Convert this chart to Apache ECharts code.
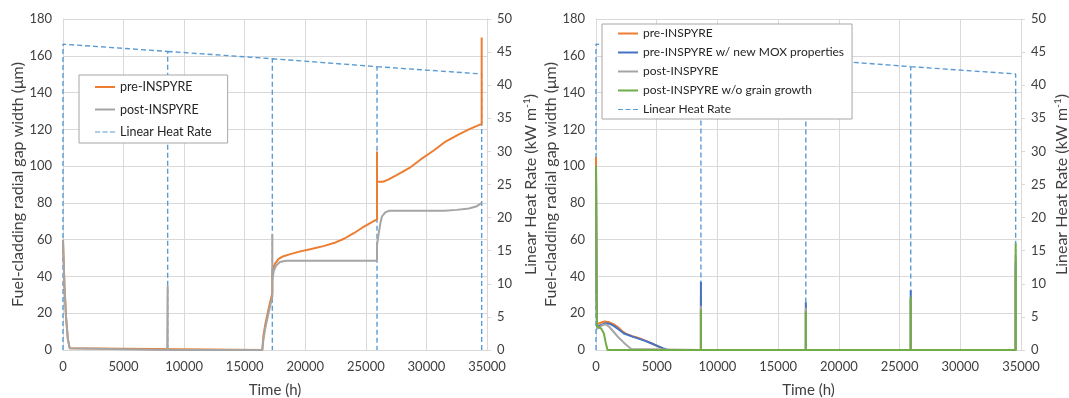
<!DOCTYPE html>
<html>
<head>
<meta charset="utf-8">
<script src="https://cdn.jsdelivr.net/npm/echarts@6/dist/echarts.min.js"></script>
<style>
  html, body { margin: 0; padding: 0; background: #fff; }
  #chart { width: 1069px; height: 398px; }
</style>
</head>
<body>
<div id="chart"></div>
<script>
// Linear heat rate history (shared by both panels), kW/m.
// null breaks the path so each shutdown drop is drawn once.
const lhrTime  = [0, 0, 8640, 8640, 8640, 8640, 17280, 17280, 17280, 17280, 25920, 25920, 25920, 25920, 34560, 34560];
const lhrValue = [0, 46.2, 45.1, 0, null, 45.1, 44.0, 0, null, 44.0, 42.8, 0, null, 42.8, 41.7, 0];

// Left panel: gap width, pre-INSPYRE (um)
const preTimeL = [0, 120, 250, 400, 550, 700, 16450, 16550, 16700, 16960, 17100, 17280, 17280, 17500, 17800, 18200, 18700, 19500, 20400, 21500, 22500, 23200, 24000, 24700, 25500, 25920, 25920, 25920, 26400, 26800, 27500, 28600, 29500, 30600, 31500, 32600, 33500, 34560, 34560];
const preValL  = [60, 35, 18, 6, 1, 0, 0, 8, 14, 22, 26, 31, 43, 47, 49.5, 51, 52, 53.5, 54.8, 56.5, 58.5, 60.5, 63.5, 66.5, 69.5, 71, 108, 91.5, 91.5, 92.5, 95, 99, 103.5, 108.5, 113, 117, 120, 123, 170];

// Left panel: gap width, post-INSPYRE (um)
const postTimeL = [0, 120, 250, 400, 550, 700, 8600, 8640, 8640, 16450, 16550, 16700, 16960, 17280, 17280, 17280, 17400, 17600, 17900, 18400, 25920, 25920, 26050, 26200, 26335, 26600, 26900, 31500, 32500, 33500, 34100, 34560];
const postValL  = [60, 35, 18, 6, 1, 0, 0, 35, 0, 0, 6, 12, 20, 29, 63, 38, 43, 46, 47.8, 48.5, 48.5, 57, 63, 69, 72.7, 74.8, 75.7, 75.7, 76.2, 77, 78, 80];

// Right panel: gap width, four model variants (um)
const preTimeR = [0, 40, 80, 200, 400, 700, 1000, 1400, 1800, 2200, 2500, 3000, 3500, 4000, 4500, 5000, 5500, 5800, 8640, 8640, 8640, 17280, 17280, 17280, 25920, 25920, 25920, 34560, 34560];
const preValR  = [105, 40, 14, 13.5, 14.8, 15.5, 15.2, 14.2, 12.5, 10, 8.8, 7.5, 6.5, 5.2, 3.8, 2.3, 0.7, 0, 0, 30, 0, 0, 22, 0, 0, 28, 0, 0, 45];

const moxTimeR = [0, 40, 80, 200, 400, 800, 1100, 1500, 1900, 2300, 2600, 3000, 3500, 4000, 4500, 5000, 5500, 5900, 8640, 8640, 8640, 17280, 17280, 17280, 25920, 25920, 25920, 34560, 34560];
const moxValR  = [100, 40, 12.5, 12, 13.5, 14.6, 14.3, 13, 11, 9, 8.3, 7.3, 6.2, 5.1, 3.8, 2.4, 1, 0, 0, 37, 0, 0, 26, 0, 0, 32.5, 0, 0, 48];

const postTimeR = [0, 40, 80, 250, 500, 800, 1100, 1500, 1900, 2300, 2600, 2900, 3000, 8640, 8640, 8640, 17280, 17280, 17280, 25920, 25920, 25920, 34560, 34560];
const postValR  = [95, 35, 11.5, 12, 13.5, 14, 12.5, 9.5, 6.5, 4, 2.2, 0.5, 0, 0, 24, 0, 0, 23, 0, 0, 28, 0, 0, 52];

const noggTimeR = [0, 40, 80, 200, 450, 650, 800, 950, 8640, 8640, 8640, 17280, 17280, 17280, 25920, 25920, 25920, 34560, 34560];
const noggValR  = [100, 35, 13, 12, 11.5, 9, 4, 0, 0, 22, 0, 0, 21, 0, 0, 29, 0, 0, 58];

// Axis tick settings
const gapAxis = { min: 0, max: 180, interval: 20 };
const lhrAxis = { min: 0, max: 50, interval: 5 };
const timeAxis = { min: 0, max: 35000, interval: 5000 };

const zip = (t, v) => t.map((x, i) => [x, v[i] === null ? '-' : v[i]]);

const C = {
  orange: '#ED7D31', blue: '#4472C4', grey: '#A5A5A5', green: '#70AD47', lhr: '#5B9BD5',
  grid: '#D9D9D9', text: '#404040'
};
const FONT = 'Lato';

function xAxisFor(gridIndex) {
  return {
    type: 'value', gridIndex, ...timeAxis,
    name: 'Time (h)', nameLocation: 'middle', nameGap: 33,
    nameTextStyle: { fontFamily: FONT, fontSize: 15, color: C.text },
    axisLine: { show: true, onZero: false, lineStyle: { color: C.grid } },
    axisTick: { show: false },
    splitLine: { show: true, lineStyle: { color: C.grid } },
    axisLabel: { fontFamily: FONT, fontSize: 13, color: C.text, margin: 10, formatter: v => String(v) }
  };
}
function gapAxisFor(gridIndex) {
  return {
    type: 'value', gridIndex, position: 'left', ...gapAxis,
    name: 'Fuel-cladding radial gap width (\u03bcm)', nameLocation: 'middle', nameGap: 37, nameRotate: 90,
    nameTextStyle: { fontFamily: FONT, fontSize: 16, color: C.text },
    axisLine: { show: true, lineStyle: { color: C.grid } },
    axisTick: { show: false },
    splitLine: { show: true, lineStyle: { color: C.grid } },
    axisLabel: { fontFamily: FONT, fontSize: 13, color: C.text, margin: 11 }
  };
}
function lhrAxisFor(gridIndex, nameGap) {
  return {
    type: 'value', gridIndex, position: 'right', ...lhrAxis,
    name: 'Linear Heat Rate (kW m{sup|-1})', nameLocation: 'middle', nameGap, nameRotate: 90,
    nameTextStyle: {
      fontFamily: FONT, fontSize: 16, color: C.text,
      rich: { sup: { fontFamily: FONT, fontSize: 10, color: C.text, verticalAlign: 'top', padding: [0, 0, 8, 0] } }
    },
    axisLine: { show: true, lineStyle: { color: C.grid } },
    axisTick: { show: true, length: 4, lineStyle: { color: C.grid } },
    splitLine: { show: false },
    axisLabel: { fontFamily: FONT, fontSize: 13, color: C.text, margin: 10 }
  };
}
function lineSeries(name, xi, yi, data, color, width) {
  return {
    name, type: 'line', xAxisIndex: xi, yAxisIndex: yi, data,
    symbol: 'none', smooth: false, animation: false, connectNulls: false,
    lineStyle: { color, width }, itemStyle: { color }
  };
}
function lhrSeries(xi, yi) {
  return {
    name: 'Linear Heat Rate', type: 'line', xAxisIndex: xi, yAxisIndex: yi,
    data: zip(lhrTime, lhrValue), symbol: 'none', animation: false, connectNulls: false,
    lineStyle: { color: C.lhr, width: 1.4, type: [5, 3] }, itemStyle: { color: C.lhr }
  };
}

// Legend keys: short solid bar for curves, three dashes for the heat rate
const SOLID = 'rect';
const DASHED = 'path://M0,0h5v1h-5zM7.5,0h5v1h-5zM15,0h5v1h-5z';
const key = (name, icon) => ({ name, icon });

const legendBase = {
  orient: 'vertical', backgroundColor: '#fff', borderColor: '#A6A6A6', borderWidth: 1,
  itemWidth: 20, itemHeight: 2, selectedMode: false
};

const option = {
  backgroundColor: '#fff',
  animation: false,
  grid: [
    { left: 63, top: 19, width: 424, height: 331, outerBoundsMode: 'none', containLabel: false },
    { left: 596, top: 19, width: 425, height: 331, outerBoundsMode: 'none', containLabel: false }
  ],
  xAxis: [xAxisFor(0), xAxisFor(1)],
  yAxis: [gapAxisFor(0), lhrAxisFor(0, 35), gapAxisFor(1), lhrAxisFor(1, 32)],
  legend: [
    { ...legendBase, left: 79, top: 75, padding: [5, 16, 4, 16], itemGap: 8.5,
      textStyle: { fontFamily: FONT, fontSize: 12.5, color: '#262626', lineHeight: 14 },
      data: [key('pre-INSPYRE', SOLID), key('post-INSPYRE', SOLID), key('Linear Heat Rate', DASHED)] },
    { ...legendBase, left: 602, top: 24, padding: [3, 8, 3, 16], itemGap: 6,
      textStyle: { fontFamily: FONT, fontSize: 12, color: '#262626', lineHeight: 13 },
      data: [key('pre-INSPYRE', SOLID), key('pre-INSPYRE w/ new MOX properties', SOLID), key('post-INSPYRE', SOLID),
             key('post-INSPYRE w/o grain growth', SOLID), key('Linear Heat Rate', DASHED)] }
  ],
  series: [
    lhrSeries(0, 1),
    lineSeries('pre-INSPYRE', 0, 0, zip(preTimeL, preValL), C.orange, 2),
    lineSeries('post-INSPYRE', 0, 0, zip(postTimeL, postValL), C.grey, 2),
    lhrSeries(1, 3),
    lineSeries('pre-INSPYRE', 1, 2, zip(preTimeR, preValR), C.orange, 2),
    lineSeries('pre-INSPYRE w/ new MOX properties', 1, 2, zip(moxTimeR, moxValR), C.blue, 2),
    lineSeries('post-INSPYRE', 1, 2, zip(postTimeR, postValR), C.grey, 2),
    lineSeries('post-INSPYRE w/o grain growth', 1, 2, zip(noggTimeR, noggValR), C.green, 2)
  ]
};

const chart = echarts.init(document.getElementById('chart'), null, { renderer: 'canvas' });
chart.setOption(option);
</script>
</body>
</html>
